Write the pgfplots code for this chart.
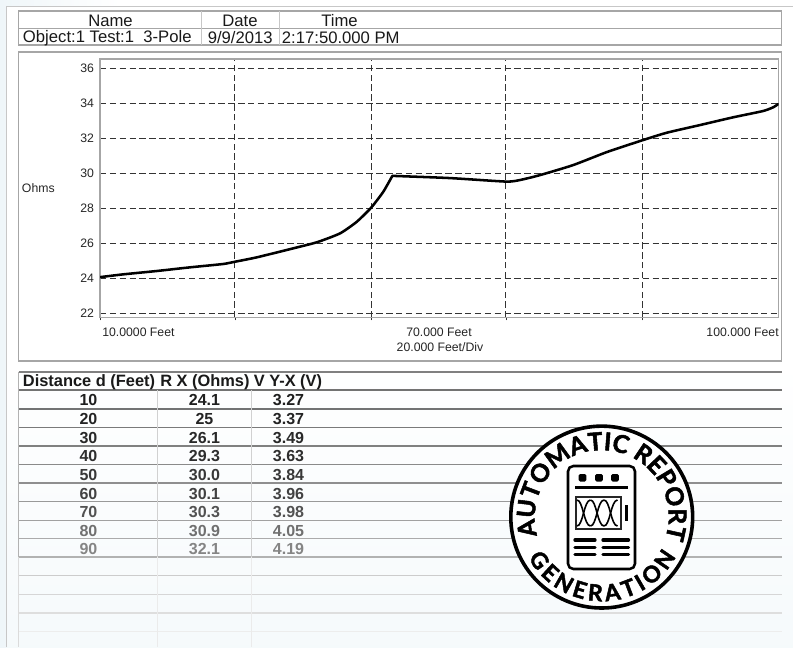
\documentclass[border=0pt]{standalone}
\usepackage{fontspec}
\setmainfont{Liberation Sans}
\newfontfamily\badgefont[BoldFeatures={FakeBold=2}]{Lato}
\usepackage{pgfplots}
\pgfplotsset{compat=1.18}
\usetikzlibrary{decorations.text}
\definecolor{frm}{HTML}{A6A6A6}
\definecolor{bgl}{HTML}{EFF6F9}
\pgfplotstableread{
x y
10 24.07
13.09 24.23
17.52 24.42
21.94 24.63
26.31 24.82
27.90 24.95
30.78 25.2
35.2 25.67
38.74 26.06
41.83 26.57
44.04 27.23
45.94 28.03
47.57 28.95
48.76 29.85
}\curveA
\pgfplotstableread{
x y
48.76 29.85
49.2 29.85
56.42 29.73
63.84 29.53
65.7 29.62
68.35 29.9
72.73 30.47
77.24 31.22
82.0 31.9
85.15 32.32
89.57 32.76
93.94 33.2
97.92 33.56
99.25 33.77
99.95 33.96
}\curveB
\newcommand{\fs}[1]{\fontsize{#1}{#1}\selectfont}
\begin{document}
\begin{tikzpicture}
\begin{scope}[x=0.75pt,y=-0.75pt]
\path[use as bounding box] (0,0) rectangle (793,647);
% page background
\fill[white] (0,0) rectangle (793,647);
\shade[left color=bgl,right color=white] (0,0) rectangle (120,647);
\fill[white] (6,6) rectangle (793,360);
\shade[top color=white,bottom color=bgl!60] (7,360) rectangle (793,647);
\draw[line width=1pt,black!22] (793,6.5) -- (6.5,6.5) -- (6.5,647);
% header table
\fill[white] (18.5,11) rectangle (781.5,45);
\draw[frm,line width=0.9pt] (18.5,11) rectangle (781.5,45);
\draw[frm,line width=0.7pt] (18.5,28) -- (781.5,28);
\draw[black!22,line width=0.8pt] (201.3,11) -- (201.3,45) (279.3,11) -- (279.3,45);
\node[font=\fs{12.5},text=black!90] at (110.5,20.5) {Name};
\node[font=\fs{12.5},text=black!90] at (240,20.5) {Date};
\node[font=\fs{12.5},text=black!90] at (339.5,20.5) {Time};
\node[font=\fs{12.5},anchor=west,inner sep=0pt,text=black!90] at (22.7,38) {Object:1 Test:1\ \ 3-Pole};
\node[font=\fs{12.5},anchor=west,inner sep=0pt,text=black!90] at (207.5,38) {9/9/2013};
\node[font=\fs{12.5},anchor=west,inner sep=0pt,text=black!90] at (281.7,38) {2:17:50.000 PM};
% plot panel
\fill[white] (18.5,52) rectangle (781.5,361);
\draw[frm,line width=0.9pt] (18.5,52) rectangle (781.5,361);
\node[font=\fs{9.2},anchor=west,inner sep=0pt,text=black!85] at (21.7,188) {Ohms};
\node[font=\fs{9.2},anchor=west,inner sep=0pt,text=black!85] at (102,332.5) {10.0000 Feet};
\node[font=\fs{9.2},inner sep=0pt,text=black!85] at (439,332.5) {70.000 Feet};
\node[font=\fs{9.2},inner sep=0pt,text=black!85] at (440,347) {20.000 Feet/Div};
\node[font=\fs{9.2},anchor=east,inner sep=0pt,text=black!85] at (779,332.5) {100.000 Feet};
% data table
\foreach \yy/\cc in {372/50,390/55,409/55,427.3/52,446/50,464.3/46,483/44,501.7/40,520.3/37,538.7/33,557/30,575.7/20,594.3/16,613/13,631.3/7}{
  \draw[black!\cc,line width=0.8pt] (18.5,\yy) -- (781.5,\yy);
}
\draw[black!30,line width=0.7pt] (18.5,372) -- (18.5,557);
\draw[black!14,line width=0.7pt] (18.5,557) -- (18.5,647);
\draw[black!18,line width=0.6pt] (157.5,390) -- (157.5,557);
\draw[black!18,line width=0.6pt] (251.5,390) -- (251.5,557);
\draw[black!8,line width=0.6pt] (157.5,557) -- (157.5,647);
\draw[black!8,line width=0.6pt] (251.5,557) -- (251.5,647);
\node[font=\fs{12.3}\bfseries,anchor=west,inner sep=0pt,text=black!90] at (22.7,382) {Distance d (Feet)};
\node[font=\fs{12.3}\bfseries,anchor=west,inner sep=0pt,text=black!90] at (160,382) {R X (Ohms)};
\node[font=\fs{12.3}\bfseries,anchor=west,inner sep=0pt,text=black!90] at (253.5,382) {V Y-X (V)};
\foreach \yy/\a/\b/\c/\cc in {400/10/24.1/3.27/88,419/20/25/3.37/86,437.5/30/26.1/3.49/84,456/40/29.3/3.63/82,474.5/50/30.0/3.84/78,493.5/60/30.1/3.96/74,512/70/30.3/3.98/68,530.5/80/30.9/4.05/56,549/90/32.1/4.19/48}{
  \node[font=\fs{12}\bfseries,inner sep=0pt,text=black!\cc] at (88.5,\yy) {\a};
  \node[font=\fs{12}\bfseries,inner sep=0pt,text=black!\cc] at (204.5,\yy) {\b};
  \node[font=\fs{12}\bfseries,inner sep=0pt,text=black!\cc] at (288.5,\yy) {\c};
}
\end{scope}
% plot
\begin{axis}[
  at={(75pt,-238.3pt)},anchor=south west,
  scale only axis,width=509pt,height=194pt,
  xmin=10,xmax=100,ymin=21.75,ymax=36.53,
  xtick={10,27.9,45.94,63.84,82},xticklabels={},
  ytick={22,24,...,36},
  tick pos=left,
  ymajorgrids,xmajorgrids,
  major grid style={black!80,dash pattern=on 4.8pt off 2.6pt,line width=0.75pt},
  axis line style={black!35,line width=1.1pt},
  major tick length=2pt,
  y tick style={draw=none},
  x tick style={black!80,line width=0.7pt},
  tick align=outside,
  yticklabel style={font=\fs{9.2},text=black!85,/pgf/number format/assume math mode=true,xshift=1pt},
]
\addplot[black,line width=1.9pt,smooth,tension=0.35,line cap=round] table[x=x,y=y] {\curveA};
\addplot[black,line width=1.9pt,smooth,tension=0.35,line cap=round] table[x=x,y=y] {\curveB};
\end{axis}
% badge
\begin{scope}[shift={(451.3pt,-387.8pt)}]
\fill[white] (0,0) circle (69pt);
\draw[black,line width=2.7pt] (0,0) circle (68.2pt);
\path[decorate,decoration={text along path,text align=center,
  text={|\badgefont\fs{18.5}\bfseries|AUTOMATIC REPORT}}]
  (225:50.2pt) arc (225:-48:50.2pt);
\path[decorate,decoration={text along path,text align={fit to path},
  text={|\badgefont\fs{17}\bfseries|GENERATION}}]
  (209:63pt) arc (209:332:63pt);
\end{scope}
\begin{scope}[x=0.75pt,y=-0.75pt]
% icon
\draw[black,line width=1.9pt,rounded corners=4pt] (568,466) rectangle (635,569);
\foreach \xx in {582.5,599,615}{\fill[black,rounded corners=1pt] (\xx-3.8,474) rectangle (\xx+3.8,481.5);}
\draw[black,line width=1.9pt] (575,487.5) -- (628,487.5);
\draw[black!85,line width=1.6pt] (576.3,497) rectangle (621,529);
\foreach \x/\ya/\yb in {577/500/526,590.5/526/500,604/500/526}{
  \draw[black,line width=1.2pt] (\x,\ya) .. controls (\x+6,\ya) and (\x+7,\yb) .. (\x+13.5,\yb);
  \draw[black,line width=1.2pt] (\x,\yb) .. controls (\x+6,\yb) and (\x+7,\ya) .. (\x+13.5,\ya);
}
\draw[black,line width=2pt] (626.5,505) -- (626.5,521);
\foreach \yy in {540,547.5,554.5}{
  \draw[black,line width=2.5pt,line cap=round] (575,\yy) -- (595,\yy);
  \draw[black,line width=2.5pt,line cap=round] (603,\yy) -- (628.5,\yy);
}
\end{scope}
\end{tikzpicture}
\end{document}
